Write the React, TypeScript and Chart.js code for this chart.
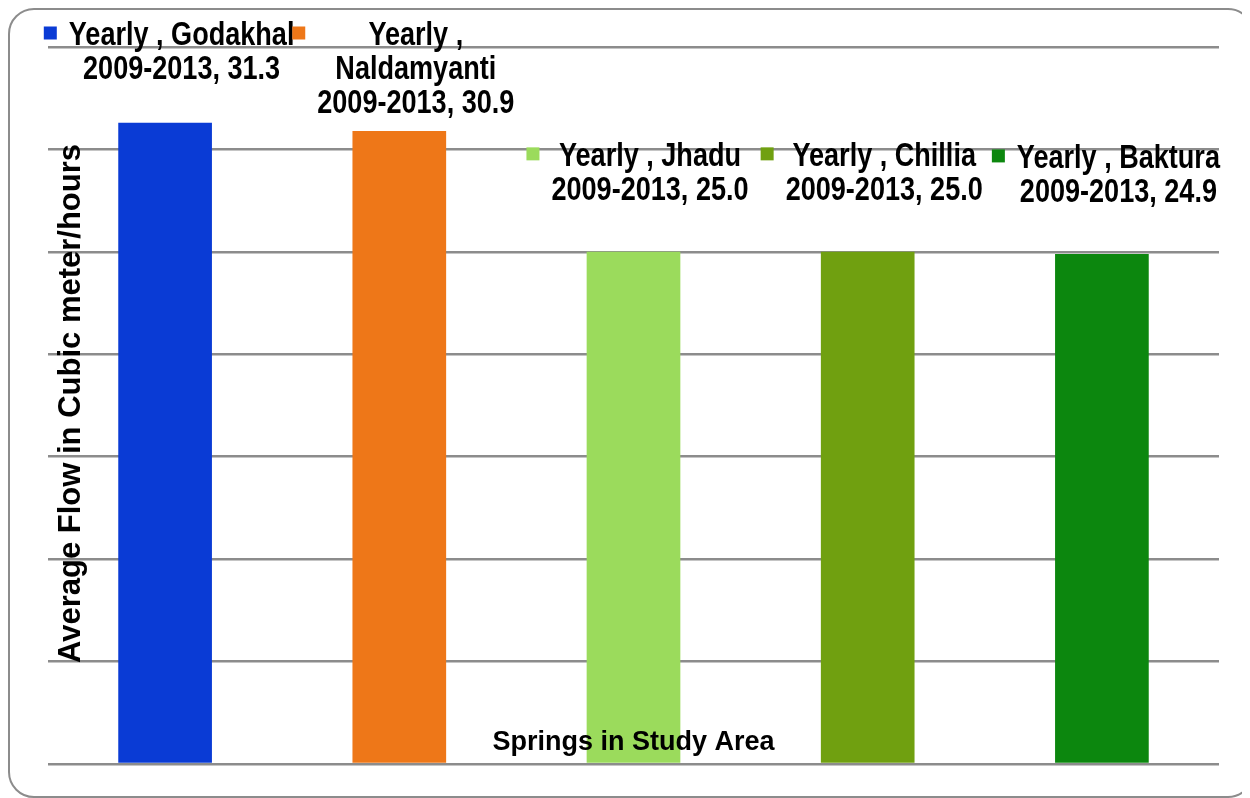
import React, { useEffect, useRef } from "react";
import { Chart, registerables } from "chart.js";

Chart.register(...registerables);

const categories = ["Godakhal", "Naldamyanti", "Jhadu", "Chillia", "Baktura"];
const seriesName = "Yearly";
const periodLabel = "2009-2013";
const values = [31.3, 30.9, 25.0, 25.0, 24.9];
const barColors = ["#0a3bd5", "#ee7718", "#9bdb5c", "#70a010", "#0c870e"];
const yTitle = "Average Flow in Cubic meter/hours";
const xTitle = "Springs in Study Area";

const FONT = "Liberation Sans, Arial, sans-serif";
const NARROW = 0.82;

const labelPlugin = {
  id: "customLabels",
  afterDraw(chart: any) {
    const ctx = chart.ctx as CanvasRenderingContext2D;
    const area = chart.chartArea;
    const meta = chart.getDatasetMeta(0);
    ctx.save();
    ctx.fillStyle = "#000";
    ctx.textBaseline = "middle";
    ctx.textAlign = "center";
    ctx.font = `bold 33px ${FONT}`;
    const lineH = 34;
    meta.data.forEach((bar: any, i: number) => {
      const first = `${seriesName} , ${categories[i]}`;
      const second = `${periodLabel}, ${values[i].toFixed(1)}`;
      let lines: string[];
      if (ctx.measureText(first).width * NARROW > 245) {
        lines = [`${seriesName} ,`, categories[i], second];
      } else {
        lines = [first, second];
      }
      const widths = lines.map((l) => ctx.measureText(l).width * NARROW);
      const maxW = Math.max(...widths);
      const cx = bar.x + 16.5;
      let lastY = bar.y - 61;
      let firstY = lastY - (lines.length - 1) * lineH;
      const minFirst = area.top - 11;
      if (firstY < minFirst) {
        const d = minFirst - firstY;
        firstY += d;
        lastY += d;
      }
      lines.forEach((l, k) => {
        ctx.save();
        ctx.translate(cx, firstY + k * lineH);
        ctx.scale(NARROW, 1);
        ctx.fillText(l, 0, 0);
        ctx.restore();
      });
      const blockLeft = cx - maxW / 2;
      ctx.fillStyle = barColors[i];
      ctx.fillRect(blockLeft - 25, firstY - 9.5, 13, 13);
      ctx.fillStyle = "#000";
    });

    // axis titles
    ctx.font = `bold 31px ${FONT}`;
    ctx.save();
    ctx.translate(area.left + 23, (area.top + area.bottom) / 2 - 2);
    ctx.rotate(-Math.PI / 2);
    ctx.fillText(yTitle, 0, 0);
    ctx.restore();
    ctx.font = `bold 27px ${FONT}`;
    ctx.fillText(xTitle, (area.left + area.right) / 2, area.bottom - 21);
    ctx.restore();
  },
};

export default function App() {
  const ref = useRef<HTMLCanvasElement>(null);
  useEffect(() => {
    document.documentElement.style.overflow = "hidden";
    const chart = new Chart(ref.current!, {
      type: "bar",
      data: {
        labels: categories,
        datasets: [
          {
            label: seriesName,
            data: values,
            backgroundColor: barColors,
            barPercentage: 0.4,
            categoryPercentage: 1,
          },
        ],
      },
      options: {
        animation: false,
        responsive: false,
        maintainAspectRatio: false,
        layout: { padding: { left: 40, top: 39, right: 29, bottom: 32 } },
        plugins: { legend: { display: false }, tooltip: { enabled: false }, title: { display: false } },
        scales: {
          x: {
            display: false,
          },
          y: {
            min: 0,
            max: 35,
            ticks: { display: false, stepSize: 5 },
            grid: { color: "#8c8c8c", lineWidth: 2.5, drawTicks: false },
            border: { display: false },
          },
        },
      },
      plugins: [labelPlugin],
    });
    return () => chart.destroy();
  }, []);
  return (
    <div
      style={{
        position: "relative",
        width: 1246,
        height: 790,
        boxSizing: "border-box",
        border: "2px solid #8c8c8c",
        borderRadius: 26,
      }}
    >
      <canvas
        ref={ref}
        width={1240}
        height={788}
        style={{ position: "absolute", left: -2, top: -2, width: 1240, height: 788 }}
      />
    </div>
  );
}
